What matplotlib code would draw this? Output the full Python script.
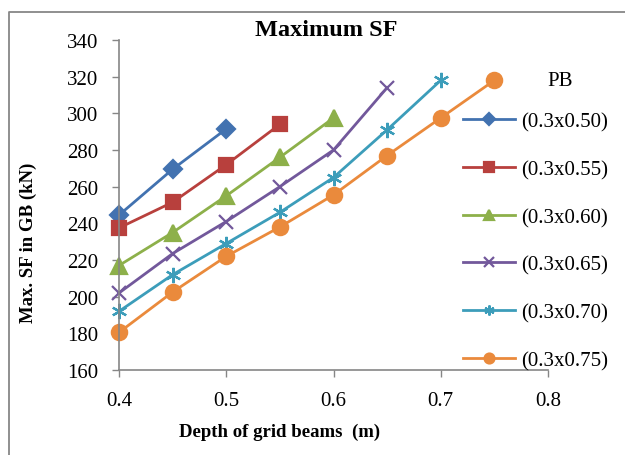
import matplotlib
matplotlib.use("Agg")
from matplotlib import pyplot as plt
from matplotlib.lines import Line2D

plt.rcParams["font.family"] = ["Liberation Serif", "DejaVu Serif"]

depth = [0.4, 0.45, 0.5, 0.55, 0.6, 0.65, 0.7, 0.75]
labels = ["(0.3x0.50)", "(0.3x0.55)", "(0.3x0.60)", "(0.3x0.65)", "(0.3x0.70)", "(0.3x0.75)"]
sf_050 = [244.5, 269.5, 291.5]
sf_055 = [237.5, 251.5, 272, 294]
sf_060 = [217, 235, 255, 276, 297.5]
sf_065 = [202, 223.5, 241, 260, 280, 314]
sf_070 = [192, 212, 229, 246, 265, 291, 318]
sf_075 = [180.5, 202.5, 222, 238, 255.5, 277, 297.5, 318]

series = [sf_050, sf_055, sf_060, sf_065, sf_070, sf_075]
colors = ["#4272B0", "#B8403D", "#8DB04A", "#72589B", "#3C9DBA", "#EA8A3C"]
markers = ["D", "s", "^", "x", (6, 2, 0), "o"]
msizes = [9.5, 10.5, 11, 10, 11, 11]

W, H = 625, 456
fig = plt.figure(figsize=(6.25, 4.56), dpi=100)
ax = fig.add_axes([119 / W, 1 - 371 / H, 429 / W, 330 / H])

for vals, lab, c, m, ms in zip(series, labels, colors, markers, msizes):
    ax.plot(depth[:len(vals)], vals, color=c, marker=m, markersize=ms,
            markeredgewidth=1.6, linewidth=2, label=lab, clip_on=False)

ax.set_xlim(0.4, 0.8)
ax.set_ylim(160, 340)
ax.set_xticks([0.4, 0.5, 0.6, 0.7, 0.8])
ax.set_yticks(range(160, 341, 20))
ax.tick_params(labelsize=15, length=5, width=1, color="#868686", direction="out", pad=10)
for s in ["top", "right"]:
    ax.spines[s].set_visible(False)
for s in ["left", "bottom"]:
    ax.spines[s].set_color("#868686")
    ax.spines[s].set_linewidth(1.2)

fig.text(326 / W, 1 - 31 / H, "Maximum SF", fontsize=17.5, fontweight="bold",
         ha="center", va="center")
fig.text(280 / W, 1 - 432 / H, "Depth of grid beams  (m)", fontsize=13.5,
         fontweight="bold", ha="center", va="center")
fig.text(28 / W, 1 - 243 / H, "Max. SF in GB (kN)", fontsize=13.5, fontweight="bold",
         rotation=90, ha="center", va="center")
fig.text(560 / W, 1 - 82 / H, "PB", fontsize=15, ha="center", va="center")

leg = fig.legend(loc="upper left", bbox_to_anchor=(463 / W, 1 - 113 / H), frameon=False,
                 fontsize=15, handlelength=2.5, handletextpad=0.3, labelspacing=1.35,
                 markerscale=0.65, borderpad=0, borderaxespad=0)

fig.add_artist(Line2D([9 / W, 9 / W, 1.0], [0.0, 1 - 13 / H, 1 - 13 / H],
                      transform=fig.transFigure, color="#878787", linewidth=1.3))

fig.savefig("out.png", dpi=100)
